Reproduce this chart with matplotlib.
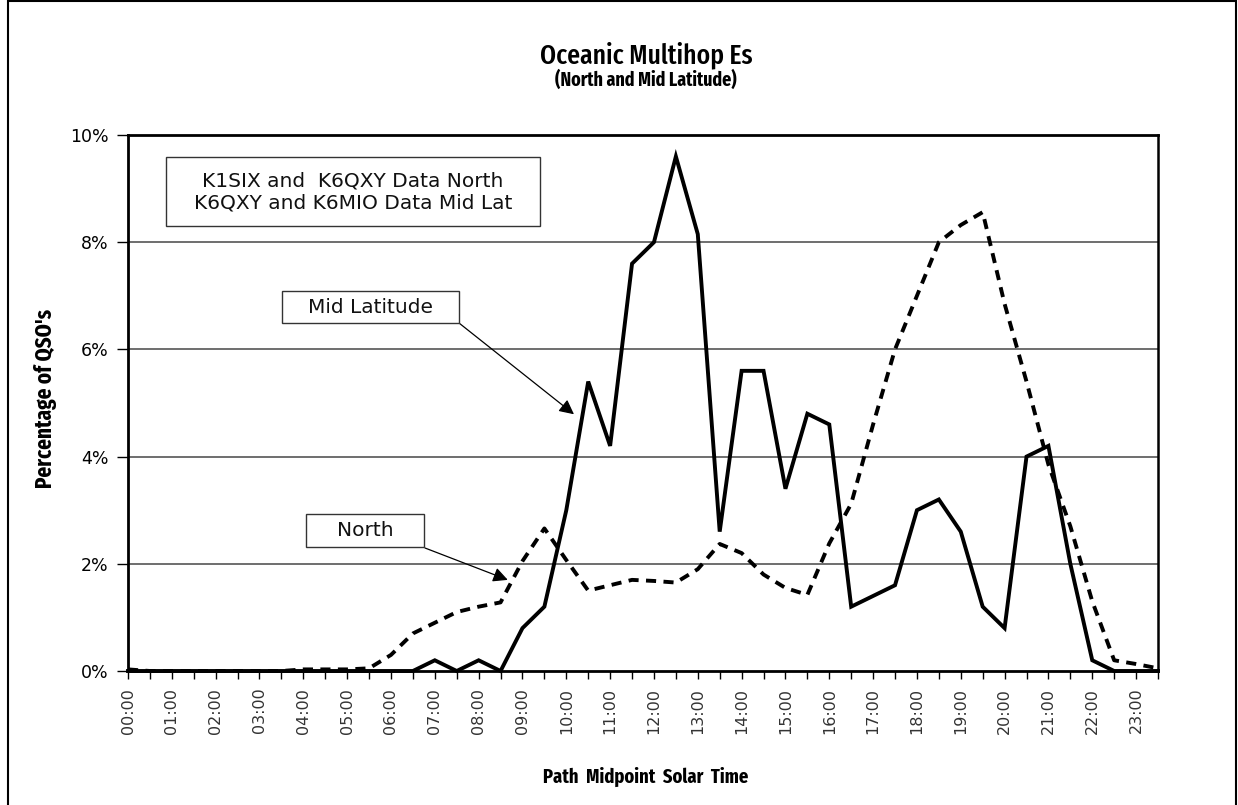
import matplotlib
matplotlib.use("Agg")
import matplotlib.pyplot as plt
from matplotlib.patches import Rectangle

# ---- data -------------------------------------------------------------
times = ["%02d:%02d" % (h, m) for h in range(24) for m in (0, 30)]

mid_latitude = [0, 0, 0, 0, 0, 0, 0, 0, 0, 0, 0, 0, 0, 0,
                 0.2, 0, 0.2, 0, 0.8, 1.2, 3.0, 5.4, 4.2, 7.6,
                 8.0, 9.6, 8.15, 2.6, 5.6, 5.6, 3.4, 4.8, 4.6, 1.2,
                 1.4, 1.6, 3.0, 3.2, 2.6, 1.2, 0.8, 4.0, 4.2, 2.0,
                 0.2, 0, 0, 0]

north = [0.03, 0, 0, 0, 0, 0, 0, 0, 0.03, 0.03, 0.03, 0.05,
         0.3, 0.7, 0.9, 1.1, 1.2, 1.28, 2.05, 2.66, 2.07, 1.5,
         1.6, 1.7, 1.68, 1.65, 1.9, 2.37, 2.2, 1.8, 1.55, 1.42,
         2.38, 3.12, 4.6, 6.0, 7.0, 8.0, 8.32, 8.56, 6.85, 5.4,
         3.85, 2.7, 1.3, 0.2, 0.13, 0.05]

y_ticks = [0, 2, 4, 6, 8, 10]
y_tick_labels = ["0%", "2%", "4%", "6%", "8%", "10%"]

title = "Oceanic Multihop Es"
subtitle = "(North and Mid Latitude)"
x_label = "Path  Midpoint  Solar  Time"
y_label = "Percentage of QSO's"
info_text = "K1SIX and  K6QXY Data North\nK6QXY and K6MIO Data Mid Lat"

NARROW = ["Fira Sans Extra Condensed", "DejaVu Sans"]

# ---- figure -----------------------------------------------------------
W, H = 1238, 805
fig = plt.figure(figsize=(W / 100, H / 100), dpi=100)

def fx(px):
    return px / W

def fy(py):
    return 1 - py / H

L, R, T, B = 128, 1158, 135, 671
ax = fig.add_axes([fx(L), fy(B), fx(R) - fx(L), fy(T) - fy(B)])

x = list(range(len(times)))
ax.plot(x, mid_latitude, color="black", lw=2.8, solid_joinstyle="miter",
        zorder=4, clip_on=False)
ax.plot(x, north, color="black", lw=2.8, linestyle=(0, (2.6, 1.9)),
        dash_capstyle="butt", zorder=3, clip_on=False)

ax.set_xlim(0, len(times) - 1)
ax.set_ylim(0, 10)

ax.set_yticks(y_ticks)
ax.set_yticklabels(y_tick_labels, fontsize=12.5, family="DejaVu Sans")
ax.set_xticks(x)
ax.set_xticklabels([t if i % 2 == 0 else "" for i, t in enumerate(times)],
                   rotation=90, fontsize=11.5, family="DejaVu Sans",
                   color="#333333")
ax.tick_params(axis="x", direction="out", length=6, width=1, pad=6)
ax.tick_params(axis="y", direction="out", length=8, width=1, pad=6)

for v in y_ticks[1:-1]:
    ax.axhline(v, color="#555555", lw=1.2, zorder=1)

for s in ax.spines.values():
    s.set_linewidth(2)
    s.set_color("black")
ax.spines["right"].set_linewidth(1.8)

ax.set_xlabel(x_label, fontsize=14.5, fontweight="bold", family=NARROW)
ax.set_ylabel(y_label, fontsize=16.5, fontweight="bold", family=NARROW)
ax.xaxis.set_label_coords((646 - L) / (R - L), (B - 777) / (B - T))
ax.yaxis.set_label_coords((45 - L) / (R - L), (B - 398) / (B - T))
ax.xaxis.label.set_va("center")
ax.yaxis.label.set_va("center")

# titles
fig.text(fx(646), fy(55), title, ha="center", va="center", fontsize=20,
         fontweight="medium", family=NARROW)
fig.text(fx(646), fy(80), subtitle, ha="center", va="center", fontsize=14,
         fontweight="bold", family=NARROW)

# outer border
fig.patches.append(Rectangle((fx(8), fy(820)), fx(1236) - fx(8),
                             fy(1) - fy(820), transform=fig.transFigure,
                             fill=False, edgecolor="black", lw=1.5))

# text boxes
def box(x0, y0, x1, y1, txt, size):
    fig.patches.append(Rectangle((fx(x0), fy(y1)), fx(x1) - fx(x0),
                                 fy(y0) - fy(y1), transform=fig.transFigure,
                                 facecolor="white", edgecolor="#333333",
                                 lw=1.0, zorder=5))
    fig.text(fx((x0 + x1) / 2), fy((y0 + y1) / 2), txt, ha="center",
             va="center", fontsize=size, family="DejaVu Sans",
             linespacing=1.2, zorder=6, color="#111111")

box(166, 157, 540, 226, info_text, 14.5)
box(282, 291, 459, 323, "Mid Latitude", 14.5)
box(306, 514, 424, 547, "North", 14.5)

# arrows (tips in data coordinates)
ax.annotate("", xy=(20.35, 4.79), xycoords="data",
            xytext=(fx(459), fy(323)), textcoords="figure fraction",
            arrowprops=dict(arrowstyle="-|>", color="black", lw=0.9,
                            mutation_scale=22, shrinkA=0, shrinkB=0),
            zorder=6, annotation_clip=False)
ax.annotate("", xy=(17.33, 1.70), xycoords="data",
            xytext=(fx(425), fy(548)), textcoords="figure fraction",
            arrowprops=dict(arrowstyle="-|>", color="black", lw=0.9,
                            mutation_scale=22, shrinkA=0, shrinkB=0),
            zorder=6, annotation_clip=False)

fig.savefig("out.png", dpi=100)
